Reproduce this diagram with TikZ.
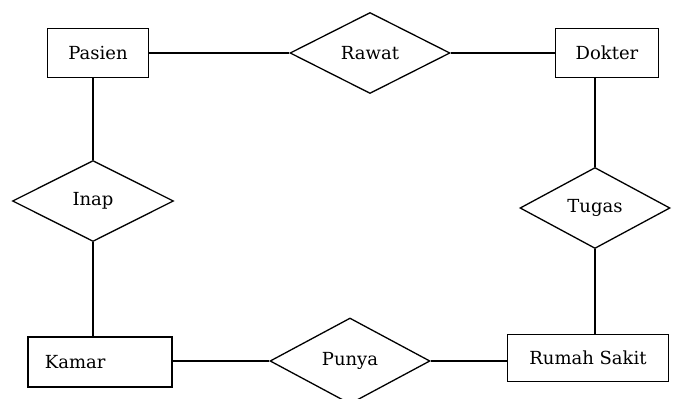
\documentclass[tikz,border=0pt]{standalone}
\usepackage{fontspec}
\setmainfont{DejaVu Serif}
\usetikzlibrary{shapes.geometric}
\begin{document}
\begin{tikzpicture}[x=1pt,y=-1pt,
  ent/.style={draw,rectangle,line width=1.3pt,inner sep=0pt,font=\fontsize{18}{21}\selectfont},
  rel/.style={draw,diamond,line width=1.3pt,inner sep=0pt,font=\fontsize{18}{21}\selectfont},
  conn/.style={line width=1.3pt}]
\useasboundingbox (0,0) rectangle (673,399);
\node[ent,minimum width=101pt,minimum height=49pt] (pasien) at (98,53) {Pasien};
\node[ent,minimum width=103pt,minimum height=49pt] (dokter) at (607,53) {Dokter};
\node[ent,minimum width=144pt,minimum height=50pt,text width=110pt,align=left] (kamar) at (100,362) {Kamar};
\node[ent,minimum width=161pt,minimum height=47pt] (rs) at (588,358) {Rumah Sakit};
\node[rel,minimum width=160pt,minimum height=81pt] (rawat) at (370,53) {Rawat};
\node[rel,minimum width=161pt,minimum height=81pt] (inap) at (93,201) {Inap};
\node[rel,minimum width=150pt,minimum height=81pt] (tugas) at (595,208) {Tugas};
\node[rel,minimum width=160pt,minimum height=86pt] (punya) at (350,361) {Punya};
\draw[conn] (pasien.east) -- (rawat.west);
\draw[conn] (rawat.east) -- (dokter.west);
\draw[conn] (inap.north) -- (inap.north |- pasien.south);
\draw[conn] (inap.south) -- (inap.south |- kamar.north);
\draw[conn] (tugas.north) -- (tugas.north |- dokter.south);
\draw[conn] (tugas.south) -- (tugas.south |- rs.north);
\draw[conn] (punya.west) -- (punya.west -| kamar.east);
\draw[conn] (punya.east) -- (punya.east -| rs.west);
\end{tikzpicture}
\end{document}
